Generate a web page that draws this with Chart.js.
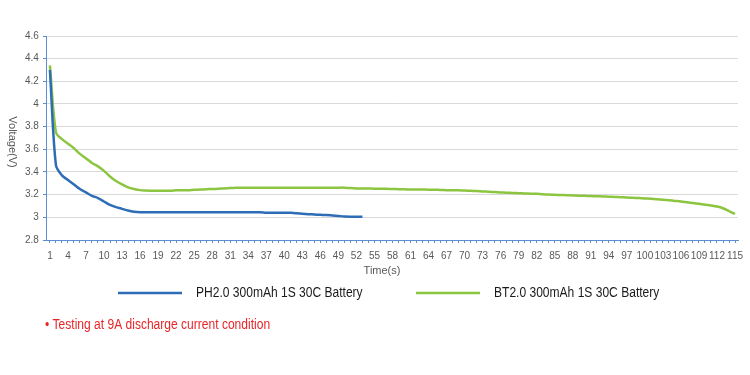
<!DOCTYPE html>
<html>
<head>
<meta charset="utf-8">
<script src="https://cdn.jsdelivr.net/npm/chart.js@4.4.1/dist/chart.umd.min.js"></script>
<style>
  html, body { margin: 0; padding: 0; background: #ffffff; }
  #wrap { width: 750px; height: 375px; position: relative; }
</style>
</head>
<body>
<div id="wrap"><canvas id="c" width="750" height="375"></canvas></div>
<script>
// ---- Data ----
const timeLabels = [];
for (let t = 1; t <= 115; t++) timeLabels.push(String(t));

const seriesNames = ["PH2.0 300mAh 1S 30C Battery", "BT2.0 300mAh 1S 30C Battery"];

const ph20Voltage = [
  4.30, 3.46, 3.37, 3.33, 3.29, 3.25, 3.22, 3.19, 3.17, 3.14,
  3.11, 3.09, 3.075, 3.06, 3.05, 3.045, 3.045, 3.045, 3.045, 3.045,
  3.045, 3.045, 3.045, 3.045, 3.045, 3.045, 3.045, 3.045, 3.045, 3.045,
  3.045, 3.045, 3.045, 3.045, 3.045, 3.045, 3.04, 3.04, 3.04, 3.04,
  3.04, 3.035, 3.032, 3.028, 3.025, 3.022, 3.02, 3.016, 3.012, 3.008,
  3.006, 3.005, 3.005
];

const bt20Voltage = [
  4.34, 3.75, 3.69, 3.65, 3.61, 3.56, 3.52, 3.48, 3.45, 3.41,
  3.36, 3.32, 3.29, 3.265, 3.25, 3.24, 3.237, 3.235, 3.235, 3.235,
  3.235, 3.238, 3.24, 3.24, 3.243, 3.245, 3.248, 3.25, 3.252, 3.255,
  3.258, 3.26, 3.262, 3.262, 3.262, 3.262, 3.262, 3.262, 3.262, 3.262,
  3.262, 3.262, 3.262, 3.262, 3.262, 3.262, 3.262, 3.262, 3.262, 3.262,
  3.258, 3.255, 3.254, 3.254, 3.253, 3.253, 3.252, 3.25, 3.248, 3.247,
  3.246, 3.246, 3.245, 3.244, 3.243, 3.242, 3.24, 3.239, 3.238, 3.236,
  3.234, 3.232, 3.229, 3.226, 3.223, 3.22, 3.217, 3.215, 3.213, 3.211,
  3.209, 3.207, 3.204, 3.201, 3.199, 3.197, 3.195, 3.193, 3.191, 3.19,
  3.188, 3.186, 3.184, 3.182, 3.18, 3.178, 3.175, 3.172, 3.17, 3.167,
  3.164, 3.16, 3.155, 3.15, 3.145, 3.14, 3.133, 3.126, 3.119, 3.112,
  3.104, 3.095, 3.08, 3.055, 3.03
];

const yMin = 2.8, yMax = 4.6, yStep = 0.2;
const xTitle = "Time(s)";
const yTitle = "Voltage(V)";
const noteText = "\u2022 Testing at 9A discharge current condition";

const blue = "#2d6db5";
const green = "#8cc540";
const axisBlue = "#5b8fd0";

function narrowText(ctx, text, x, y, sx) {
  ctx.save();
  ctx.translate(x, y);
  ctx.scale(sx, 1);
  ctx.fillText(text, 0, 0);
  ctx.restore();
}

const extras = {
  id: "extras",
  afterDraw(chart) {
    const ctx = chart.ctx;
    ctx.save();
    // Y title rotated (reads top to bottom)
    ctx.fillStyle = "#595959";
    ctx.font = "11px 'Liberation Sans', Arial, sans-serif";
    ctx.translate(12, 142);
    ctx.rotate(Math.PI / 2);
    ctx.textAlign = "center";
    ctx.textBaseline = "middle";
    ctx.fillText(yTitle, 0, 0);
    ctx.restore();

    ctx.save();
    ctx.fillStyle = "#595959";
    ctx.font = "11px 'Liberation Sans', Arial, sans-serif";
    ctx.textAlign = "center";
    ctx.textBaseline = "middle";
    ctx.fillText(xTitle, 382, 271);

    // Legend
    const items = [
      { x: 118, ds: chart.data.datasets[0] },
      { x: 416, ds: chart.data.datasets[1] }
    ];
    ctx.font = "14px 'Liberation Sans', Arial, sans-serif";
    ctx.textAlign = "left";
    items.forEach(it => {
      ctx.strokeStyle = it.ds.borderColor;
      ctx.lineWidth = 2.5;
      ctx.beginPath();
      ctx.moveTo(it.x, 293);
      ctx.lineTo(it.x + 64, 293);
      ctx.stroke();
      ctx.fillStyle = "#1a1a1a";
      narrowText(ctx, it.ds.label, it.x + 78, 293, 0.86);
    });

    // Note
    ctx.fillStyle = "#e8262a";
    ctx.font = "14px 'Liberation Sans', Arial, sans-serif";
    narrowText(ctx, noteText, 45, 325, 0.86);
    ctx.restore();
  }
};

new Chart(document.getElementById("c"), {
  type: "line",
  data: {
    labels: timeLabels,
    datasets: [
      {
        label: seriesNames[0],
        data: ph20Voltage,
        borderColor: blue,
        backgroundColor: blue,
        borderWidth: 2.5,
        pointRadius: 0,
        tension: 0.3,
        fill: false
      },
      {
        label: seriesNames[1],
        data: bt20Voltage,
        borderColor: green,
        backgroundColor: green,
        borderWidth: 2.5,
        pointRadius: 0,
        tension: 0.3,
        fill: false
      }
    ]
  },
  options: {
    responsive: false,
    animation: false,
    devicePixelRatio: 1,
    layout: { padding: { left: 21, top: 36, right: 0, bottom: 106 } },
    plugins: {
      legend: { display: false },
      tooltip: { enabled: false }
    },
    scales: {
      x: {
        offset: true,
        grid: {
          display: true,
          drawOnChartArea: false,
          drawTicks: true,
          tickLength: 3,
          color: axisBlue,
          offset: false
        },
        border: { display: true, color: axisBlue, width: 1 },
        ticks: {
          autoSkip: false,
          maxRotation: 0,
          minRotation: 0,
          padding: 7,
          color: "#595959",
          font: { family: "'Liberation Sans', Arial, sans-serif", size: 10 },
          callback: function (v, i) { return i % 3 === 0 ? timeLabels[i] : ""; }
        }
      },
      y: {
        min: yMin,
        max: yMax,
        grid: {
          color: "#d9d9d9",
          lineWidth: 1,
          drawTicks: true,
          tickLength: 4,
          tickColor: axisBlue
        },
        border: { display: true, color: axisBlue, width: 1 },
        ticks: {
          stepSize: yStep,
          padding: 4,
          color: "#595959",
          font: { family: "'Liberation Sans', Arial, sans-serif", size: 10 },
          callback: function (v) { return String(Number(v.toFixed(1))); }
        }
      }
    }
  },
  plugins: [extras]
});
</script>
</body>
</html>
